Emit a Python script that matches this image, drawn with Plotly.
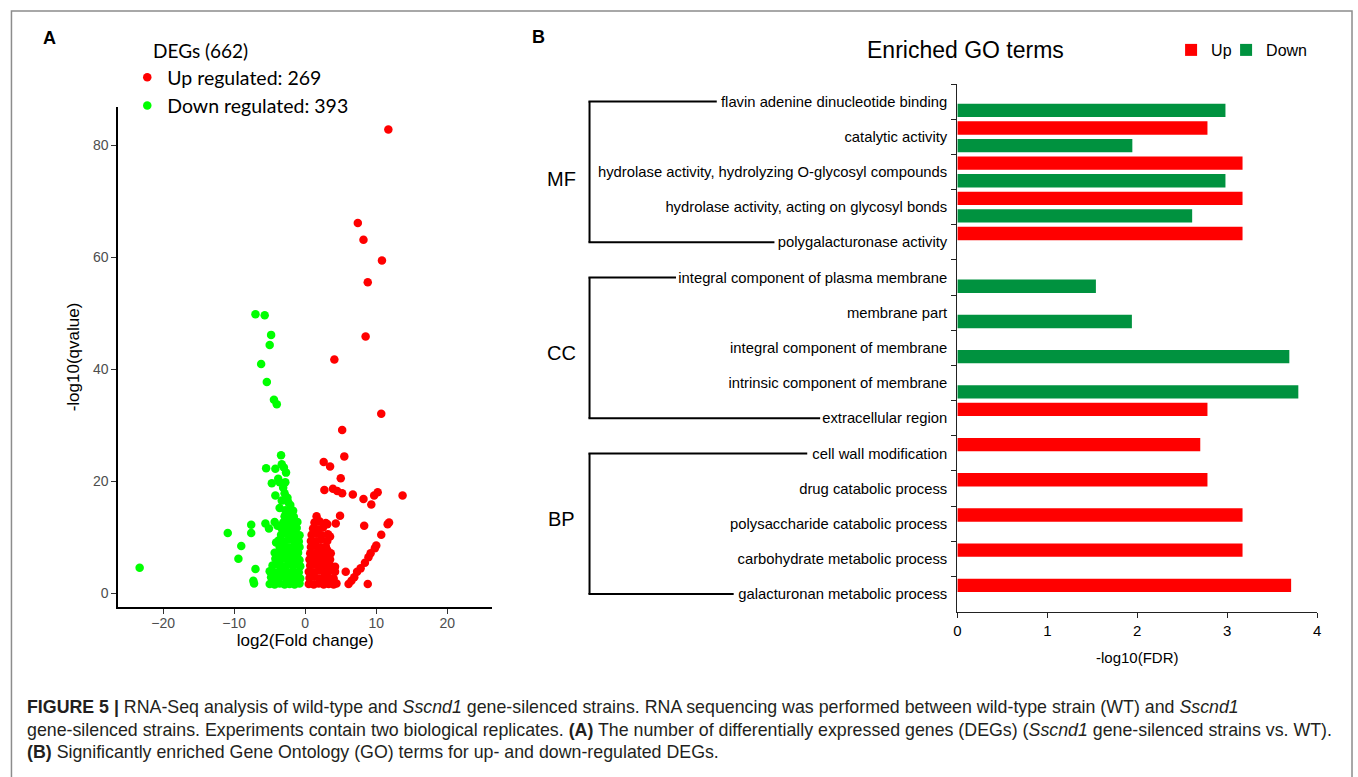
import plotly.graph_objects as go

W, H = 1358, 777
def PX(x): return x / W
def PY(y): return 1 - y / H

# ---------------- Panel A: volcano data (log2 fold change, -log10 qvalue) ----------------
up_log2fc = [
    11.7, 7.4, 8.2, 10.8, 8.8, 8.5, 4.1, 10.7, 5.2, 5.5,
    2.6, 3.5, 5.0, 2.7, 3.9, 4.5, 5.2, 6.7, 8.2, 9.3,
    9.7, 10.2, 13.7, 4.9, 4.3, 8.3, 11.6, 11.8, 10.7, 10.0,
    9.8, 9.2, 8.9, 8.4, 7.8, 7.3, 6.9, 6.5, 6.1, 8.8,
    5.7, 4.2, 4.2, 4.4, 4.0, 3.5, 3.1, 3.1,
    0.5, 1.2, 1.9, 2.6, 3.3, 4.0,
    0.6, 1.3, 2.0, 2.7, 3.4,
    0.5, 1.2, 1.9, 2.6, 3.3,
    0.7, 1.4, 2.1, 2.8, 3.5,
    0.6, 1.3, 2.0, 2.7, 3.5,
    0.7, 1.4, 2.1, 2.8, 3.6,
    0.8, 1.5, 2.2, 2.9,
    0.8, 1.5, 2.2, 3.1,
    0.9, 1.6, 2.3, 3.2,
    1.1, 1.8, 2.5,
    1.3, 2.0, 2.9,
    1.6,
]
up_log10q = [
    82.8, 66.1, 63.1, 59.4, 55.5, 45.8, 41.7, 32.0, 29.1, 24.4,
    23.4, 22.6, 20.5, 18.4, 18.6, 18.2, 17.8, 17.6, 16.8, 15.8,
    17.4, 18.0, 17.4, 13.8, 12.4, 12.0, 12.3, 12.6, 10.4, 8.5,
    8.0, 7.1, 6.4, 5.4, 4.4, 3.8, 2.8, 2.2, 1.6, 1.6,
    3.8, 4.7, 3.8, 1.7, 2.6, 10.1, 12.3, 7.7,
    1.6, 1.5, 1.7, 1.5, 1.6, 1.5,
    2.7, 2.9, 2.6, 2.8, 2.7,
    3.8, 3.7, 4.0, 3.8, 3.9,
    4.9, 5.1, 4.8, 5.0, 4.9,
    6.0, 6.2, 5.9, 6.1, 6.0,
    7.1, 7.0, 7.2, 7.0, 7.1,
    8.2, 8.4, 8.1, 8.3,
    9.3, 9.2, 9.5, 9.3,
    10.4, 10.6, 10.3, 10.5,
    11.5, 11.4, 11.7,
    12.6, 12.8, 12.5,
    13.7,
]
down_log2fc = [
    -23.3, -10.9, -7.6, -7.6, -9.0, -9.4, -7.0, -7.3, -7.2,
    -7.0, -5.7, -4.8, -5.0, -6.2, -5.4, -4.4, -4.0,
    -5.6, -5.1, -5.5, -4.2, -3.4, -3.3, -3.0, -2.7, -3.8, -3.6, -4.7, -2.8,
    -4.2, -2.9, -3.1, -2.4, -2.1, -3.6, -4.3, -3.3, -2.5,
    -5.0, -4.3, -3.6, -2.9, -2.2, -1.5, -0.8,
    -4.8, -4.1, -3.4, -2.7, -2.0, -1.3, -0.7,
    -5.0, -4.4, -3.7, -3.0, -2.3, -1.6, -0.9,
    -4.6, -3.9, -3.2, -2.5, -1.8, -1.1, -0.7,
    -4.2, -3.5, -2.8, -2.1, -1.4, -0.8,
    -4.3, -3.8, -3.1, -2.4, -1.7, -1.0,
    -3.6, -2.9, -2.2, -1.5, -0.8,
    -4.1, -3.7, -3.0, -2.3, -1.6, -0.9,
    -3.4, -2.7, -2.0, -1.3, -0.8,
    -3.3, -2.6, -1.9, -1.2,
    -3.9, -3.1, -2.4, -1.7, -1.1,
    -2.9, -2.2, -1.6,
    -2.8, -2.1, -1.7,
]
down_log10q = [
    4.5, 10.7, 12.2, 10.7, 8.4, 6.1, 4.3, 2.2, 1.7,
    49.8, 49.6, 46.1, 44.3, 40.9, 37.7, 34.5, 33.7,
    12.4, 11.5, 22.3, 22.2, 24.6, 23.0, 22.4, 21.5, 20.4, 19.8, 19.6, 19.8,
    17.4, 17.8, 18.8, 16.2, 15.7, 15.2, 12.7, 16.5, 17.0,
    1.6, 1.5, 1.7, 1.5, 1.6, 1.5, 1.7,
    2.8, 2.6, 2.9, 2.7, 2.5, 2.8, 2.6,
    3.9, 3.7, 3.8, 4.0, 3.6, 3.9, 3.7,
    4.9, 5.1, 4.8, 5.0, 4.9, 5.2, 4.8,
    6.1, 5.9, 6.2, 6.0, 6.1, 5.9,
    7.2, 7.0, 7.3, 7.1, 7.0, 7.2,
    8.2, 8.4, 8.1, 8.3, 8.2,
    9.0, 9.4, 9.2, 9.5, 9.3, 9.2,
    10.4, 10.6, 10.3, 10.5, 10.3,
    11.5, 11.7, 11.4, 11.6,
    12.0, 12.6, 12.8, 12.5, 12.7,
    13.7, 13.9, 13.6,
    14.8, 15.0, 14.7,
]
volcano_xticks = [-20, -10, 0, 10, 20]
volcano_yticks = [0, 20, 40, 60, 80]

# ---------------- Panel B: enriched GO terms (-log10 FDR) ----------------
go_terms = [
    "flavin adenine dinucleotide binding",
    "catalytic activity",
    "hydrolase activity, hydrolyzing O-glycosyl compounds",
    "hydrolase activity, acting on glycosyl bonds",
    "polygalacturonase activity",
    "integral component of plasma membrane",
    "membrane part",
    "integral component of membrane",
    "intrinsic component of membrane",
    "extracellular region",
    "cell wall modification",
    "drug catabolic process",
    "polysaccharide catabolic process",
    "carbohydrate metabolic process",
    "galacturonan metabolic process",
]
up_fdr = [None, 2.78, 3.17, 3.17, 3.17, None, None, None, None, 2.78, 2.70, 2.78, 3.17, 3.17, 3.71]
down_fdr = [2.98, 1.945, 2.98, 2.61, None, 1.54, 1.94, 3.69, 3.79, None, None, None, None, None, None]
fdr_ticks = [0, 1, 2, 3, 4]
go_groups = ["MF", "CC", "BP"]
group_first = ["flavin adenine dinucleotide binding", "integral component of plasma membrane", "cell wall modification"]
group_last = ["polygalacturonase activity", "extracellular region", "galacturonan metabolic process"]

RED = "#ff0000"
LIME = "#00ff00"
BARGREEN = "#00923f"
ARIAL = "Liberation Sans, Arial, sans-serif"
CALIBRI = "Lato, Carlito, sans-serif"

fig = go.Figure()

fig.add_trace(go.Scatter(
    x=up_log2fc, y=up_log10q, mode="markers", name="Up regulated: 269",
    marker=dict(color=RED, size=8.5, line=dict(width=0)),
    xaxis="x", yaxis="y", legend="legend",
))
fig.add_trace(go.Scatter(
    x=down_log2fc, y=down_log10q, mode="markers", name="Down regulated: 393",
    marker=dict(color=LIME, size=8.5, line=dict(width=0)),
    xaxis="x", yaxis="y", legend="legend",
))

fig.add_trace(go.Bar(
    y=go_terms, x=up_fdr, orientation="h", name="Up",
    marker=dict(color=RED, line=dict(width=0)),
    xaxis="x2", yaxis="y2", legend="legend2", legendwidth=10,
))
fig.add_trace(go.Bar(
    y=go_terms, x=down_fdr, orientation="h", name="Down",
    marker=dict(color=BARGREEN, line=dict(width=0)),
    xaxis="x2", yaxis="y2", legend="legend2", legendwidth=46,
))

# dendrogram-like group brackets
shapes = []
bx = PX(589)
line_end_first = [PX(717), PX(676), PX(808)]
line_end_last = [PX(775), PX(821), PX(734)]
for i in range(3):
    shapes.append(dict(type="line", xref="paper", yref="y2", x0=bx, x1=bx,
                       y0=group_first[i], y1=group_last[i], line=dict(color="black", width=2)))
    shapes.append(dict(type="line", xref="paper", yref="y2", x0=bx - 0.0008, x1=line_end_first[i],
                       y0=group_first[i], y1=group_first[i], line=dict(color="black", width=2)))
    shapes.append(dict(type="line", xref="paper", yref="y2", x0=bx - 0.0008, x1=line_end_last[i],
                       y0=group_last[i], y1=group_last[i], line=dict(color="black", width=2)))
# outer frame
shapes.append(dict(type="rect", xref="paper", yref="paper", x0=PX(7.5), x1=PX(1356), y0=-0.05, y1=PY(11),
                   line=dict(color="#8c8c8c", width=1.5), fillcolor="rgba(0,0,0,0)", layer="below"))

def ann(text, x, y, size, family=ARIAL, xanchor="center", yanchor="middle", color="black"):
    return dict(text=text, x=PX(x), y=PY(y), xref="paper", yref="paper", showarrow=False,
                xanchor=xanchor, yanchor=yanchor, font=dict(family=family, size=size, color=color))

annotations = [
    ann("<b>A</b>", 46, 38, 18),
    ann("<b>B</b>", 538, 37, 18),
    ann("DEGs (662)", 148, 51, 19, family=CALIBRI, xanchor="left"),
    ann("Enriched GO terms", 967, 50, 23),
]
group_label_y = [179, 353, 519]
for g, gy in zip(go_groups, group_label_y):
    annotations.append(ann(g, 561, gy, 20))

caption_lines = [
    "<b>FIGURE 5 |</b> RNA-Seq analysis of wild-type and <i>Sscnd1</i> gene-silenced strains. RNA sequencing was performed between wild-type strain (WT) and <i>Sscnd1</i>",
    "gene-silenced strains. Experiments contain two biological replicates. <b>(A)</b> The number of differentially expressed genes (DEGs) (<i>Sscnd1</i> gene-silenced strains vs. WT).",
    "<b>(B)</b> Significantly enriched Gene Ontology (GO) terms for up- and down-regulated DEGs.",
]
for line, ly in zip(caption_lines, [707, 730, 752]):
    annotations.append(ann(line, 21, ly, 17.8, family="Liberation Sans Narrow, Liberation Sans, Arial",
                           xanchor="left", color="#231f20"))

fig.update_layout(
    width=W, height=H, margin=dict(l=0, r=0, t=0, b=0),
    paper_bgcolor="white", plot_bgcolor="white",
    barmode="group", bargap=0.0, bargroupgap=0.24,
    shapes=shapes, annotations=annotations,
    xaxis=dict(domain=[PX(115), PX(491)], range=[-26.3, 26.3], tickvals=volcano_xticks,
               ticks="outside", ticklen=5, tickcolor="#333", tickwidth=1,
               showline=True, linecolor="black", linewidth=2, showgrid=False, zeroline=False,
               tickfont=dict(family=ARIAL, size=14, color="#4d4d4d"), ticklabelstandoff=-3,
               title=dict(text="log2(Fold change)", font=dict(family=ARIAL, size=17, color="black"), standoff=4),
               anchor="y", fixedrange=True),
    yaxis=dict(domain=[PY(607), PY(107)], range=[-2.5, 86.8], tickvals=volcano_yticks,
               ticks="outside", ticklen=5, tickcolor="#333", tickwidth=1,
               showline=True, linecolor="black", linewidth=2, showgrid=False, zeroline=False,
               tickfont=dict(family=ARIAL, size=14, color="#4d4d4d"),
               title=dict(text="-log10(qvalue)", font=dict(family=ARIAL, size=17, color="black"), standoff=9),
               anchor="x", fixedrange=True),
    xaxis2=dict(domain=[PX(959), PX(1321)], range=[0, 4], tickvals=fdr_ticks,
                ticks="outside", ticklen=5, tickcolor="#222", tickwidth=1.2,
                showline=True, linecolor="#222", linewidth=1.3, showgrid=False, zeroline=False,
                tickfont=dict(family=ARIAL, size=15, color="black"),
                title=dict(text="-log10(FDR)", font=dict(family=ARIAL, size=15, color="black"), standoff=14),
                anchor="y2", fixedrange=True),
    yaxis2=dict(domain=[PY(611.7), PY(84)], type="category", categoryorder="array", categoryarray=go_terms,
                autorange="reversed", ticks="outside", tickson="boundaries", ticklen=5, tickcolor="#222",
                showline=True, linecolor="#222", linewidth=1.3, showgrid=False, zeroline=False,
                tickfont=dict(family=ARIAL, size=14.8, color="black"), ticklabelstandoff=6,
                anchor="x2", fixedrange=True),
    legend=dict(x=PX(124), y=PY(58), xanchor="left", yanchor="top", orientation="v",
                font=dict(family=CALIBRI, size=19.5, color="black"), bgcolor="rgba(0,0,0,0)",
                itemwidth=30, tracegroupgap=0),
    legend2=dict(x=PX(1174), y=PY(33), xanchor="left", yanchor="top", orientation="h",
                 font=dict(family=ARIAL, size=16, color="black"), bgcolor="rgba(0,0,0,0)",
                 itemwidth=30),
    showlegend=True,
)

fig.write_html("out.html", config={"displayModeBar": False},
               post_script="document.body.style.margin='0';")
